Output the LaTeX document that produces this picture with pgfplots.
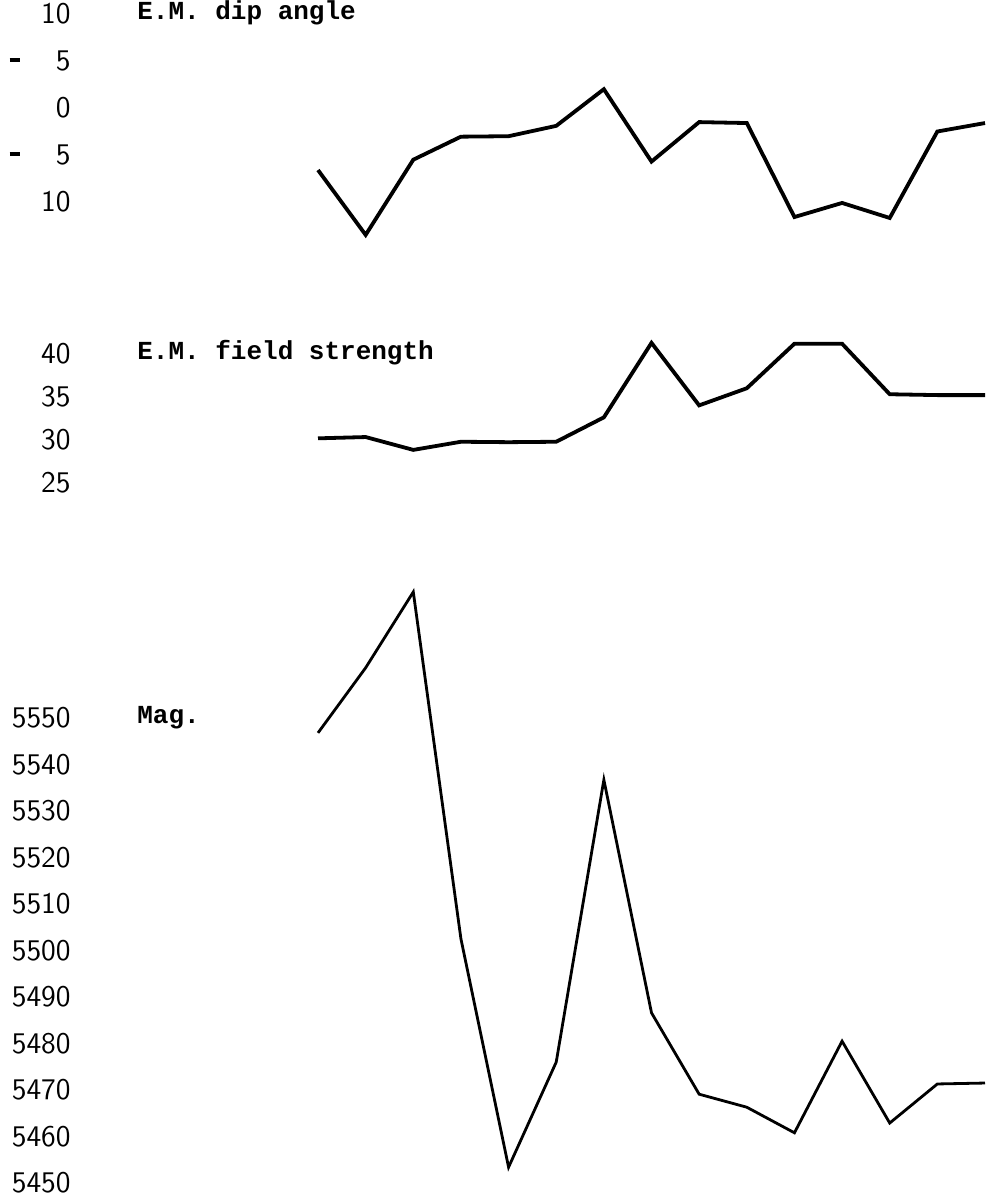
\documentclass[border=0pt]{standalone}
\usepackage{fontspec}
\setmainfont{Liberation Mono}
\usepackage{pgfplots}
\pgfplotsset{compat=1.18}
\newcommand{\num}[1]{{\sffamily\fontsize{15}{17}\selectfont #1}}
\newcommand{\lab}[1]{\makebox[30.5pt][r]{\num{#1}}}
\newcommand{\dlab}[1]{\makebox[30.5pt]{\rule[4.3pt]{5pt}{1.8pt}\hfill\num{#1}}}
\newcommand{\ttl}[1]{{\fontsize{13}{15}\selectfont\bfseries #1}}
\pgfplotsset{
  panel/.style={
    scale only axis, width=452.6pt, xmin=-5, xmax=14,
    axis x line=none, axis y line=left,
    y axis line style={draw=none}, ytick style={draw=none},
    major tick length=0pt,
    yticklabel style={anchor=east, inner sep=0pt, xshift=-4.4pt},
    clip=false, anchor=south west,
  }
}
\begin{document}
\begin{tikzpicture}
\path[use as bounding box] (0,0) rectangle (492.5pt,-602pt);
% E.M. dip angle
\begin{axis}[panel, at={(39.9pt,-124.5pt)}, height=122.2pt, ymin=-15, ymax=11,
  ytick={-10,-5,0,5,10},
  yticklabels={\lab{10},\dlab{5},\lab{0},\dlab{5},\lab{10}}]
\addplot[black, line width=1.9pt, mark=none] coordinates {
(0,-6.6) (1,-13.5) (2,-5.5) (3,-3.05) (4,-3.0) (5,-1.9) (6,2.0) (7,-5.7)
(8,-1.5) (9,-1.6) (10,-11.6) (11,-10.1) (12,-11.7) (13,-2.5) (14,-1.6)};
\node[anchor=mid west, inner sep=0pt] at (axis cs:-3.8,10) {\ttl{E.M. dip angle}};
\end{axis}
% E.M. field strength
\begin{axis}[panel, at={(39.9pt,-254.05pt)}, height=98.45pt, ymin=22, ymax=45,
  ytick={25,30,35,40},
  yticklabels={\lab{25},\lab{30},\lab{35},\lab{40}}]
\addplot[black, line width=1.9pt, mark=none] coordinates {
(0,30.15) (1,30.3) (2,28.8) (3,29.75) (4,29.7) (5,29.75) (6,32.6) (7,41.3)
(8,34.0) (9,36.0) (10,41.2) (11,41.2) (12,35.3) (13,35.2) (14,35.2)};
\node[anchor=mid west, inner sep=0pt] at (axis cs:-3.8,40) {\ttl{E.M. field strength}};
\end{axis}
% Mag.
\begin{axis}[panel, at={(39.9pt,-596.15pt)}, height=306.9pt, ymin=5448, ymax=5580,
  ytick={5450,5460,...,5550},
  yticklabels={\lab{5450},\lab{5460},\lab{5470},\lab{5480},\lab{5490},\lab{5500},\lab{5510},\lab{5520},\lab{5530},\lab{5540},\lab{5550}}]
\addplot[black, line width=1.4pt, mark=none] coordinates {
(0,5546.8) (1,5560.8) (2,5577.1) (3,5502.5) (4,5453.4) (5,5476.0) (6,5536.7)
(7,5486.6) (8,5469.1) (9,5466.3) (10,5460.8) (11,5480.5) (12,5462.9) (13,5471.3) (14,5471.5)};
\node[anchor=mid west, inner sep=0pt] at (axis cs:-3.8,5550) {\ttl{Mag.}};
\end{axis}
\end{tikzpicture}
\end{document}
